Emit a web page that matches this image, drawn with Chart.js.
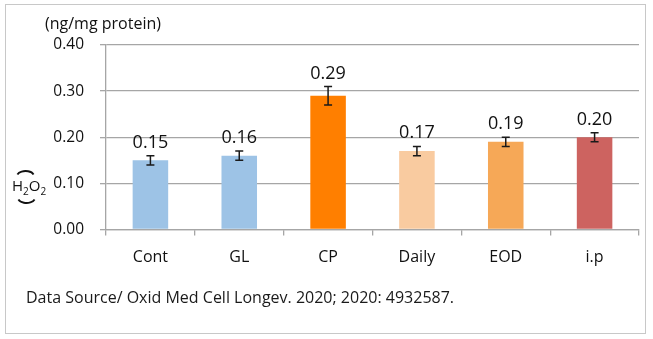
<!DOCTYPE html>
<html>
<head>
<meta charset="utf-8">
<script src="https://cdn.jsdelivr.net/npm/chart.js@4/dist/chart.umd.min.js"></script>
<style>
  html, body { margin: 0; padding: 0; background: #fff; }
  #wrap { position: relative; width: 653px; height: 339px; }
</style>
</head>
<body>
<div id="wrap"><canvas id="canvas" width="653" height="339"></canvas></div>
<script>
const ctx = document.getElementById('canvas').getContext('2d')

// H2O2 levels per group (ng/mg protein)
const groups = ['Cont', 'GL', 'CP', 'Daily', 'EOD', 'i.p']
const h2o2 = [0.15, 0.16, 0.29, 0.17, 0.19, 0.20]
const errs = [0.01, 0.01, 0.02, 0.01, 0.01, 0.01]
const barColors = ['#9dc3e6', '#9dc3e6', '#ff7f00', '#f9cba0', '#f6a857', '#cd6360']
const yTicks = [0, 0.1, 0.2, 0.3, 0.4]

const FONT = '"Open Sans", "Noto Sans", sans-serif'
const GRID = '#a6a6a6'

// error bars, value labels and the loose texts around the plot
const extras = {
  id: 'extras',
  afterDatasetsDraw(chart) {
    const c = chart.ctx
    const meta = chart.getDatasetMeta(0)
    const y = chart.scales.y
    c.save()
    c.strokeStyle = '#1a1a1a'
    c.lineWidth = 1.5
    c.fillStyle = '#111'
    c.font = '18px ' + FONT
    c.textAlign = 'center'
    c.textBaseline = 'alphabetic'
    meta.data.forEach((bar, i) => {
      const x = bar.x
      const top = y.getPixelForValue(h2o2[i] + errs[i])
      const bot = y.getPixelForValue(h2o2[i] - errs[i])
      c.beginPath()
      c.moveTo(x, top); c.lineTo(x, bot)
      c.moveTo(x - 4, top); c.lineTo(x + 4, top)
      c.moveTo(x - 4, bot); c.lineTo(x + 4, bot)
      c.stroke()
      c.fillText(h2o2[i].toFixed(2), x, top - 8)
    })
    c.restore()
  },
  afterDraw(chart) {
    const c = chart.ctx
    c.save()
    c.fillStyle = '#111'
    c.textBaseline = 'alphabetic'
    c.textAlign = 'left'
    c.font = '16px ' + FONT
    c.fillText('(ng/mg protein)', 45, 29)

    // y axis title: H2O2 with sideways brackets
    c.font = '15px ' + FONT
    let x = 12
    const base = 191
    c.fillText('H', x, base); x += c.measureText('H').width
    c.font = '10px ' + FONT
    c.fillText('2', x, base + 4); x += c.measureText('2').width
    c.font = '15px ' + FONT
    c.fillText('O', x, base); x += c.measureText('O').width
    c.font = '10px ' + FONT
    c.fillText('2', x, base + 4)
    c.strokeStyle = '#111'
    c.lineWidth = 1.8
    c.beginPath()
    c.ellipse(25.5, 176, 8.5, 5, 0, Math.PI * 1.1, Math.PI * 1.9)
    c.stroke()
    c.beginPath()
    c.ellipse(26.5, 198, 8.5, 5, 0, Math.PI * 0.1, Math.PI * 0.9)
    c.stroke()

    c.font = '16px ' + FONT
    c.fillStyle = '#1a1a1a'
    c.fillText('Data Source/ Oxid Med Cell Longev. 2020; 2020: 4932587.', 26, 303)

    // outer frame
    c.strokeStyle = '#c8c8c8'
    c.lineWidth = 1
    c.strokeRect(5.5, 4.5, 640, 329)
    c.restore()
  }
}

new Chart(ctx, {
  type: 'bar',
  data: {
    labels: groups,
    datasets: [{
      data: h2o2,
      backgroundColor: barColors,
      borderWidth: 0,
      barPercentage: 0.4,
      categoryPercentage: 1
    }]
  },
  options: {
    responsive: false,
    animation: false,
    events: [],
    layout: { padding: { left: 0, top: 45, right: 14, bottom: 0 } },
    plugins: {
      legend: { display: false },
      tooltip: { enabled: false }
    },
    scales: {
      x: {
        afterFit: s => { s.height = 109.5 },
        grid: { offset: true, drawOnChartArea: false, drawTicks: true, tickLength: 6, color: GRID, lineWidth: 1.3 },
        border: { display: true, color: GRID, width: 1.3 },
        ticks: { color: '#111', font: { family: FONT, size: 16 }, padding: 12 }
      },
      y: {
        min: 0,
        max: 0.4,
        afterFit: s => { s.width = 106 },
        afterBuildTicks: s => { s.ticks = yTicks.map(v => ({ value: v })) },
        grid: { color: GRID, lineWidth: 1.3, tickLength: 6 },
        border: { display: true, color: GRID, width: 1.3 },
        ticks: {
          color: '#111',
          font: { family: FONT, size: 15.5 },
          padding: 16,
          callback: v => v.toFixed(2)
        }
      }
    }
  },
  plugins: [extras]
})
</script>
</body>
</html>
